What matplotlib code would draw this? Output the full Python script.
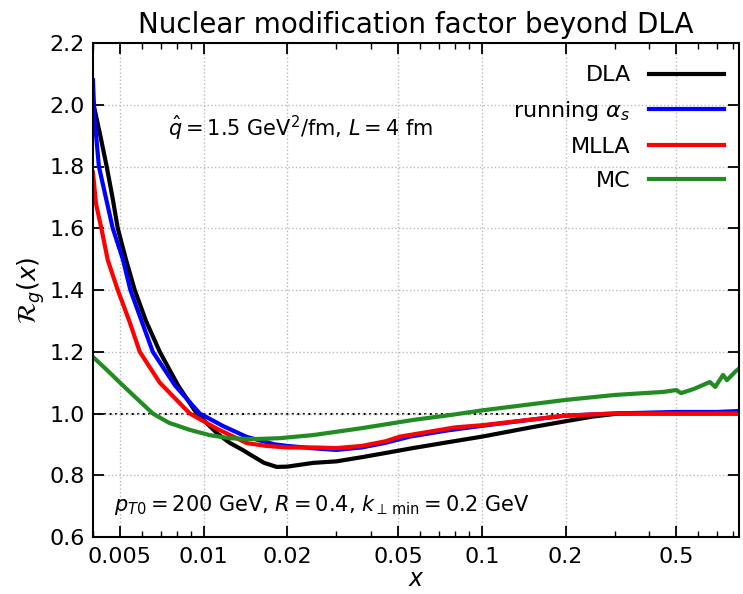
import matplotlib
matplotlib.use("Agg")
import matplotlib.pyplot as plt
from matplotlib.ticker import FixedLocator, NullFormatter, LogLocator

# values
x_dla = [0.004, 0.00402, 0.00425, 0.00448, 0.0047, 0.00491, 0.00525, 0.00565, 0.0062, 0.00695,
         0.0081, 0.00944, 0.0112, 0.0124, 0.0138, 0.015, 0.0165, 0.0183, 0.02, 0.0247,
         0.03, 0.0373, 0.045, 0.0565, 0.0767, 0.1, 0.15, 0.2, 0.25, 0.31,
         0.4, 0.5, 0.6, 0.7, 0.84]
r_dla = [2.02, 2.0, 1.9, 1.8, 1.7, 1.6, 1.5, 1.4, 1.3, 1.2,
         1.09, 1.0, 0.935, 0.905, 0.882, 0.862, 0.84, 0.827, 0.828, 0.84,
         0.845, 0.859, 0.872, 0.888, 0.908, 0.925, 0.955, 0.975, 0.99, 1.0,
         1.0, 1.0, 1.0, 1.0, 1.0]

x_run = [0.004, 0.00404, 0.0042, 0.00471, 0.00512, 0.00545, 0.00656, 0.0079, 0.00968, 0.0117,
         0.0143, 0.018, 0.02, 0.025, 0.03, 0.037, 0.045, 0.055, 0.075, 0.1,
         0.15, 0.2, 0.3, 0.5, 0.7, 0.84]
r_run = [2.08, 1.97, 1.8, 1.6, 1.5, 1.4, 1.2, 1.09, 1.0, 0.96,
         0.924, 0.9, 0.895, 0.887, 0.882, 0.89, 0.905, 0.925, 0.945, 0.96,
         0.98, 0.993, 1.0, 1.005, 1.005, 1.008]

x_mlla = [0.004, 0.0041, 0.0043, 0.00452, 0.00491, 0.0054, 0.00589, 0.00695, 0.00891, 0.0112,
          0.0143, 0.0168, 0.02, 0.025, 0.03, 0.037, 0.045, 0.0507, 0.08, 0.1,
          0.15, 0.2, 0.3, 0.5, 0.7, 0.84]
r_mlla = [1.78, 1.68, 1.594, 1.497, 1.4, 1.3, 1.2, 1.1, 1.0, 0.95,
          0.904, 0.895, 0.89, 0.89, 0.888, 0.895, 0.91, 0.925, 0.955, 0.962,
          0.98, 0.993, 1.0, 1.0, 1.0, 1.0]

x_mc = [0.004, 0.0045, 0.005, 0.0058, 0.00656, 0.0075, 0.00891, 0.0105, 0.0124, 0.015,
        0.0187, 0.0247, 0.0373, 0.0565, 0.077, 0.1, 0.2, 0.3, 0.45, 0.5,
        0.52, 0.58, 0.66, 0.69, 0.736, 0.76, 0.82, 0.84]
r_mc = [1.183, 1.14, 1.1, 1.045, 1.0, 0.97, 0.947, 0.93, 0.92, 0.917,
        0.92, 0.93, 0.953, 0.979, 0.995, 1.01, 1.044, 1.06, 1.07, 1.076,
        1.066, 1.08, 1.102, 1.086, 1.125, 1.108, 1.138, 1.145]

xticks = [0.005, 0.01, 0.02, 0.05, 0.1, 0.2, 0.5]
xticklabels = ["0.005", "0.01", "0.02", "0.05", "0.1", "0.2", "0.5"]
yticks = [0.6, 0.8, 1.0, 1.2, 1.4, 1.6, 1.8, 2.0, 2.2]

fig = plt.figure(figsize=(7.43, 5.94), dpi=100)
ax = fig.add_axes([93/743, 1 - 537/594, (739 - 93)/743, (537 - 43)/594])

ax.plot(x_dla, r_dla, color="black", lw=3, label="DLA")
ax.plot(x_run, r_run, color="blue", lw=3, label=r"running $\alpha_s$")
ax.plot(x_mlla, r_mlla, color="red", lw=3, label="MLLA")
ax.plot(x_mc, r_mc, color="forestgreen", lw=3, label="MC")
ax.axhline(1.0, color="black", ls=":", lw=1.5, zorder=0)

ax.set_xscale("log")
ax.set_xlim(0.004, 0.84)
ax.set_ylim(0.6, 2.2)
ax.xaxis.set_major_locator(FixedLocator(xticks))
ax.set_xticklabels(xticklabels)
ax.xaxis.set_minor_locator(LogLocator(base=10, subs=range(2, 10)))
ax.xaxis.set_minor_formatter(NullFormatter())
ax.set_yticks(yticks)
ax.set_yticklabels(["%.1f" % v for v in yticks])

ax.tick_params(which="both", direction="in", top=True, right=True, labelsize=16)
ax.tick_params(which="major", length=8, width=1.3)
ax.tick_params(which="minor", length=4, width=1.0)
ax.tick_params(axis="x", pad=7)
ax.tick_params(axis="y", pad=6)
for s in ax.spines.values():
    s.set_linewidth(1.5)
ax.grid(True, which="major", ls=":", color="#bbbbbb", lw=1)

ax.set_xlabel(r"$x$", fontsize=17, labelpad=0)
ax.set_ylabel(r"$\mathcal{R}_g(x)$", fontsize=18, labelpad=2)
ax.set_title("Nuclear modification factor beyond DLA", fontsize=20, pad=7)

ax.text(0.116, 0.828, r"$\hat{q} = 1.5$ GeV$^2$/fm, $L = 4$ fm", transform=ax.transAxes,
        fontsize=15, va="center")
ax.text(0.032, 0.065, r"$p_{T0} = 200$ GeV, $R = 0.4$, $k_{\perp\,\mathrm{min}} = 0.2$ GeV",
        transform=ax.transAxes, fontsize=15, va="center")

ax.legend(loc="upper right", markerfirst=False, frameon=False, fontsize=16,
          handlelength=3.4, labelspacing=0.62, bbox_to_anchor=(1.008, 0.995))

fig.savefig("out.png", dpi=100)
